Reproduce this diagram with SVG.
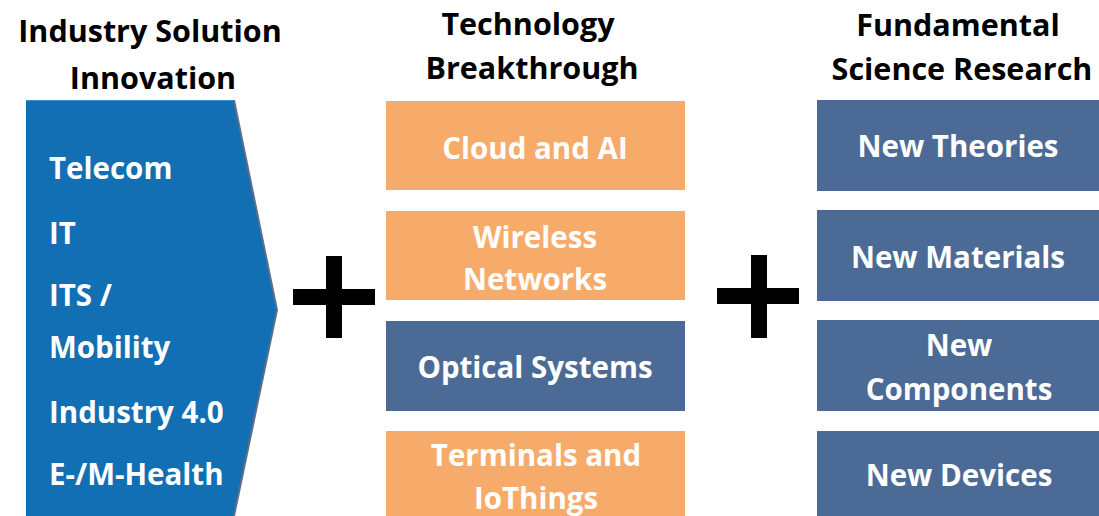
<svg xmlns="http://www.w3.org/2000/svg" width="1099" height="516" viewBox="0 0 1099 516">
<style>
.h{font-family:"Open Sans","Liberation Sans",sans-serif;font-weight:bold;font-size:30.5px;fill:#000;text-anchor:middle}
.t{font-family:"Open Sans","Liberation Sans",sans-serif;font-weight:bold;font-size:29.5px;fill:#fff}
.c{text-anchor:middle}
.or{fill:#F7AB6B}
.sl{fill:#4B6B96}
.plus{fill:#000}
</style>
<rect width="1099" height="516" fill="#fff"/>
<g id="header">
<text class="h" x="150" y="42">Industry Solution</text>
<text class="h" x="153" y="89">Innovation</text>
<text class="h" x="528" y="35">Technology</text>
<text class="h" x="532" y="79">Breakthrough</text>
<text class="h" x="958" y="36">Fundamental</text>
<text class="h" x="962" y="80">Science Research</text>
</g>
<g id="industry">
<polygon points="28,100 235,100 278,310 235,516 28,516" fill="#5E6F86"/>
<polygon points="26,100 233,100 276,310 233,516 26,516" fill="#136FB4"/>
<line x1="26" y1="100.5" x2="233" y2="100.5" stroke="#3A8FD0" stroke-width="1"/>
<text class="t" x="49" y="179">Telecom</text>
<text class="t" x="49" y="244">IT</text>
<text class="t" x="49" y="306">ITS /</text>
<text class="t" x="49" y="358">Mobility</text>
<text class="t" x="49" y="423">Industry 4.0</text>
<text class="t" x="49" y="485">E-/M-Health</text>
</g>
<g id="plus1">
<rect class="plus" x="326" y="256" width="16" height="82"/>
<rect class="plus" x="293" y="289" width="82" height="16"/>
</g>
<g id="plus2">
<rect class="plus" x="751" y="255" width="16" height="83"/>
<rect class="plus" x="717" y="288" width="82" height="16"/>
</g>
<g id="cloud">
<rect class="or" x="386" y="101" width="299" height="89"/>
<text class="t c" x="535" y="159">Cloud and AI</text>
</g>
<g id="wireless">
<rect class="or" x="386" y="211" width="299" height="89"/>
<text class="t c" x="535" y="248">Wireless</text>
<text class="t c" x="535" y="290">Networks</text>
</g>
<g id="optical">
<rect class="sl" x="386" y="321" width="299" height="90"/>
<text class="t c" x="535" y="378">Optical Systems</text>
</g>
<g id="terminals">
<rect class="or" x="386" y="431" width="299" height="85"/>
<text class="t c" x="536" y="466">Terminals and</text>
<text class="t c" x="536" y="509">IoThings</text>
</g>
<g id="theories">
<rect class="sl" x="817" y="100" width="282" height="91"/>
<text class="t c" x="958" y="157">New Theories</text>
</g>
<g id="materials">
<rect class="sl" x="817" y="210" width="282" height="91"/>
<text class="t c" x="958" y="268">New Materials</text>
</g>
<g id="components">
<rect class="sl" x="817" y="320" width="282" height="91"/>
<text class="t c" x="959" y="356">New</text>
<text class="t c" x="959" y="400">Components</text>
</g>
<g id="devices">
<rect class="sl" x="817" y="431" width="282" height="85"/>
<text class="t c" x="959" y="486">New Devices</text>
</g>
<g id="connectors"></g>
</svg>
